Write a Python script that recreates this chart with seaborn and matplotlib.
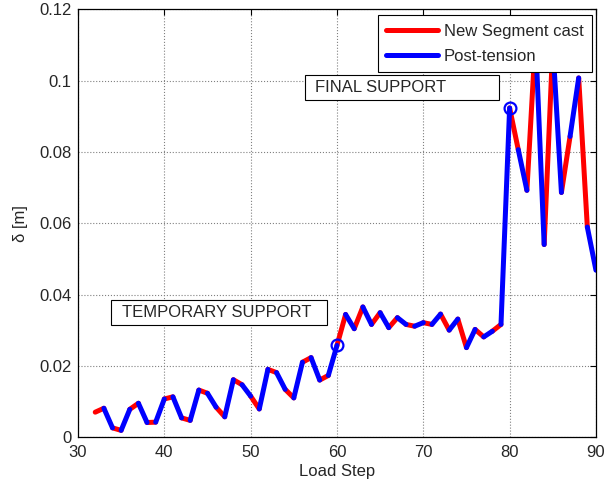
import numpy as np
import pandas as pd
import seaborn as sns
from matplotlib import pyplot as plt
from matplotlib.patches import Rectangle

# deflection at each load step
load_step = list(range(32, 91))
delta = [0.0071, 0.0082, 0.0027, 0.0020, 0.0079, 0.0096, 0.0042, 0.0043,
         0.0108, 0.0114, 0.0055, 0.0048, 0.0133, 0.0124, 0.0085, 0.0058,
         0.0162, 0.0148, 0.0116, 0.0080, 0.0191, 0.0182, 0.0135, 0.0111,
         0.0211, 0.0224, 0.0161, 0.0174, 0.0258, 0.0345, 0.0305, 0.0366,
         0.0317, 0.0350, 0.0308, 0.0336, 0.0317, 0.0312, 0.0322, 0.0317,
         0.0346, 0.0301, 0.0332, 0.0252, 0.0303, 0.0282, 0.0298, 0.0317,
         0.0924, 0.0807, 0.0693, 0.1120, 0.0541, 0.1100, 0.0687, 0.0844,
         0.1008, 0.0590, 0.0469]
stages = ['New Segment cast', 'Post-tension']
support_steps = [60, 80]
support_labels = ['TEMPORARY SUPPORT', 'FINAL SUPPORT']

# one two-point segment per step, cast on even steps, post-tension on odd
rows = []
for i in range(len(load_step) - 1):
    stage = stages[load_step[i] % 2]
    rows.append((load_step[i], delta[i], i, stage))
    rows.append((load_step[i + 1], delta[i + 1], i, stage))
seg_df = pd.DataFrame(rows, columns=['step', 'delta', 'seg', 'stage'])

sns.set_style('white')
plt.rcParams['font.family'] = ['Liberation Sans', 'DejaVu Sans']
fs = 12

fig = plt.figure(figsize=(6.13, 4.86), dpi=100)
ax = fig.add_axes([0.1272, 0.0998, 0.845, 0.8807])

sns.lineplot(data=seg_df, x='step', y='delta', hue='stage', units='seg',
             estimator=None, sort=False, hue_order=stages,
             palette={'New Segment cast': '#ff0000', 'Post-tension': '#0000ff'},
             linewidth=3.6, ax=ax)

sup_y = [delta[load_step.index(s)] for s in support_steps]
ax.plot(support_steps, sup_y, 'o', mfc='none', mec='#0000ff', ms=8.5, mew=1.6)

# annotation boxes (x0, x1, y0, y1) and text anchors
for (x0, x1, y0, y1), tx, label in [((33.8, 58.9, 0.0314, 0.0385), 35.1, support_labels[0]),
                                     ((56.3, 78.8, 0.0945, 0.1017), 57.45, support_labels[1])]:
    ax.add_patch(Rectangle((x0, y0), x1 - x0, y1 - y0, fc='white', ec='black',
                           lw=0.8, zorder=4))
    ax.text(tx, (y0 + y1) / 2, label, fontsize=fs, va='center', zorder=5)

ax.set_xlim(30, 90)
ax.set_ylim(0, 0.12)
ax.set_xticks(range(30, 91, 10))
yt = [0, 0.02, 0.04, 0.06, 0.08, 0.1, 0.12]
ax.set_yticks(yt)
ax.set_yticklabels(['0', '0.02', '0.04', '0.06', '0.08', '0.1', '0.12'])
ax.grid(True, linestyle=':', color='0.5', linewidth=0.8)
ax.tick_params(direction='in', top=True, right=True, length=4,
               labelsize=fs, color='black', pad=4.5)
ax.tick_params(axis='x', pad=5.5)
for sp in ax.spines.values():
    sp.set_color('black')
    sp.set_linewidth(0.9)

ax.set_xlabel('Load Step', fontsize=fs, labelpad=3)
ax.set_ylabel('δ [m]', fontsize=fs, labelpad=8)

leg = ax.legend(loc='upper right', bbox_to_anchor=(0.992, 0.9865),
                borderaxespad=0, fontsize=fs, frameon=True, fancybox=False,
                edgecolor='black', handlelength=3.1, handletextpad=0.35,
                borderpad=0.5, labelspacing=0.6)
leg.get_frame().set_linewidth(0.8)
leg.get_frame().set_alpha(1)
leg.set_zorder(6)

plt.savefig('out.png', dpi=100)
